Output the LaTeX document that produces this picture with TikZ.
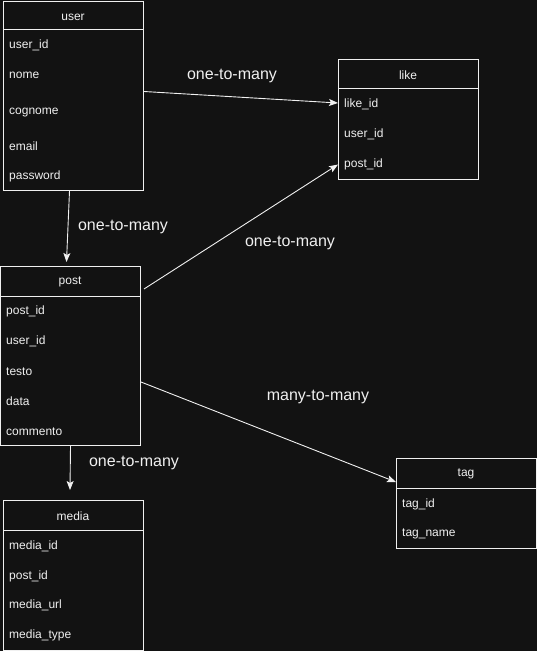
\documentclass[tikz,border=0pt]{standalone}
\usepackage{fontspec}
\setmainfont{Liberation Sans}
\usetikzlibrary{arrows.meta, positioning}

\definecolor{canvas}{RGB}{18,18,18}
\definecolor{ink}{RGB}{240,240,240}

\begin{document}
\begin{tikzpicture}[
        x=1bp, y=-1bp,
        table/.style={rectangle, draw=ink, line width=1bp, fill=canvas, minimum width=140bp,
                      anchor=north west, inner sep=0pt},
        header/.style={text=ink, font=\fontsize{12bp}{14bp}\selectfont, inner sep=0pt, yshift=-1bp},
        field/.style={text=ink, anchor=west, font=\fontsize{12bp}{14bp}\selectfont, inner sep=0pt, yshift=-1.5bp},
        relation/.style={text=ink, font=\fontsize{16bp}{18bp}\selectfont, inner sep=0pt, yshift=-1.5bp},
        arrow/.style={draw=ink, line width=0.9bp, -{Stealth[length=9bp, width=7bp, inset=2bp]}}
    ]
        \fill[canvas] (0,0) rectangle (537,651);
        \useasboundingbox (0,0) rectangle (537,651);

        % user
        \node[table, minimum height=189bp] (user) at (3,1) {};
        \draw[ink, line width=1bp] (3,30) -- (143,30);
        \node[header] (userhead) at (73,16) {user};
        \node[field] (useruserid) at (9,44) {user\_id};
        \node[field] (usernome) at (9,74) {nome};
        \node[field] (usercognome) at (9,111) {cognome};
        \node[field] (useremail) at (9,145) {email};
        \node[field] (userpassword) at (9,175) {password};

        % like
        \node[table, minimum height=120bp] (like) at (338,59) {};
        \draw[ink, line width=1bp] (338,89) -- (478,89);
        \node[header] (likehead) at (408,74) {like};
        \node[field] (likelikeid) at (344,103) {like\_id};
        \node[field] (likeuserid) at (344,133) {user\_id};
        \node[field] (likepostid) at (344,163) {post\_id};

        % post
        \node[table, minimum height=179bp] (post) at (0,266) {};
        \draw[ink, line width=1bp] (0,296) -- (140,296);
        \node[header] (posthead) at (70,281) {post};
        \node[field] (postpostid) at (6,310) {post\_id};
        \node[field] (postuserid) at (6,340) {user\_id};
        \node[field] (posttesto) at (6,370) {testo};
        \node[field] (postdata) at (6,400) {data};
        \node[field] (postcommento) at (6,430) {commento};

        % media
        \node[table, minimum height=150bp] (media) at (3,500) {};
        \draw[ink, line width=1bp] (3,530) -- (143,530);
        \node[header] (mediahead) at (73,515) {media};
        \node[field] (mediaid) at (9,545) {media\_id};
        \node[field] (mediapostid) at (9,575) {post\_id};
        \node[field] (mediaurl) at (9,604) {media\_url};
        \node[field] (mediatype) at (9,634) {media\_type};

        % tag
        \node[table, minimum height=90bp] (tag) at (396,458) {};
        \draw[ink, line width=1bp] (396,488) -- (536,488);
        \node[header] (taghead) at (466,473) {tag};
        \node[field] (tagid) at (402,503) {tag\_id};
        \node[field] (tagname) at (402,532) {tag\_name};

        % relations
        \coordinate (mediain) at (70,490);
        \draw[arrow] ([yshift=4.5bp]user.east) -- ([yshift=1.5bp]like.west |- likelikeid);
        \draw[arrow] ([xshift=-4bp]user.south) -- ([xshift=-4bp, yshift=4bp]post.north);
        \draw[arrow] ([xshift=3bp, yshift=-23bp]post.north east) -- (like.west |- likepostid);
        \draw[arrow] ([yshift=-116bp]post.north east) -- ([yshift=-24bp]tag.north west);
        \draw[arrow] (post.south) -- (mediain);

        \node[relation] (relone) at (232,74) {one-to-many};
        \node[relation] (reltwo) at (123,225) {one-to-many};
        \node[relation] (relthree) at (290,241) {one-to-many};
        \node[relation] (relfour) at (318,395) {many-to-many};
        \node[relation] (relfive) at (134,461) {one-to-many};
    \end{tikzpicture}
\end{document}
